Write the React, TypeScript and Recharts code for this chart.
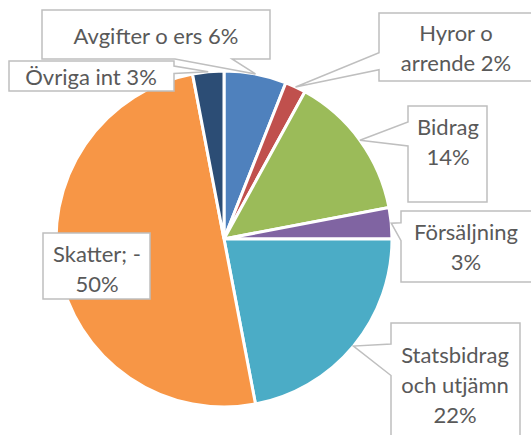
import { PieChart, Pie, Cell } from "recharts";

const names = [
  "Avgifter o ers",
  "Hyror o arrende",
  "Bidrag",
  "Försäljning",
  "Statsbidrag och utjämn",
  "Skatter; -",
  "Övriga int",
];
const values = [6, 2, 14, 3, 22, 50, 3];
// how many words go on each line of a label
const wordsPerLine = [[4], [2, 2], [1, 1], [1, 1], [1, 2, 1], [2, 1], [3]];
const colors = ["#4F81BD", "#C0504D", "#9BBB59", "#8064A2", "#4BACC6", "#F79646", "#2C4D75"];

// callout boxes, placed by hand like in the original sheet
const boxes = [
  { x: 42, y: 10, w: 228, h: 49, tx: 156, ty: 44 },
  { x: 379, y: 13, w: 154, h: 68, tx: 456, ty: 41 },
  { x: 408, y: 106, w: 79, h: 96, tx: 448, ty: 135 },
  { x: 401, y: 211, w: 132, h: 71, tx: 466, ty: 240 },
  { x: 391, y: 323, w: 129, h: 126, tx: 455, ty: 363 },
  { x: 43, y: 233, w: 107, h: 66, tx: 97, ty: 262 },
  { x: 9, y: 61, w: 165, h: 30, tx: 91, ty: 85 },
];

const data = names.map((name, i) => ({ name, value: values[i] }));

const RAD = Math.PI / 180;

// rectangle callout with a wedge pointing at (px, py)
function calloutPath(b: any, px: number, py: number) {
  const l = b.x, t = b.y, r = b.x + b.w, bt = b.y + b.h;
  if (px >= l && px <= r && py >= t && py <= bt) {
    return `M${l},${t}L${r},${t}L${r},${bt}L${l},${bt}Z`;
  }
  const dx = px - (l + b.w / 2);
  const dy = py - (t + b.h / 2);
  const dz = Math.abs(dy) - Math.abs((dx * b.h) / b.w);
  if (dz > 0) {
    const g = dx > 0 ? 7 : 2;
    const x1 = l + (b.w * g) / 12;
    const x2 = l + (b.w * (g + 3)) / 12;
    if (dy < 0)
      return `M${l},${t}L${x1},${t}L${px},${py}L${x2},${t}L${r},${t}L${r},${bt}L${l},${bt}Z`;
    return `M${l},${t}L${r},${t}L${r},${bt}L${x2},${bt}L${px},${py}L${x1},${bt}L${l},${bt}Z`;
  }
  const g = dy > 0 ? 7 : 2;
  const y1 = t + (b.h * g) / 12;
  const y2 = t + (b.h * (g + 3)) / 12;
  if (dx < 0)
    return `M${l},${t}L${r},${t}L${r},${bt}L${l},${bt}L${l},${y2}L${px},${py}L${l},${y1}Z`;
  return `M${l},${t}L${r},${t}L${r},${y1}L${px},${py}L${r},${y2}L${r},${bt}L${l},${bt}Z`;
}

const renderLabel = (props: any) => {
  const { cx, cy, midAngle, outerRadius, percent, index } = props;
  const b = boxes[index];
  const px = cx + outerRadius * Math.cos(-midAngle * RAD);
  const py = cy + outerRadius * Math.sin(-midAngle * RAD);
  const words = `${names[index]} ${Math.round(percent * 100)}%`.split(" ");
  const lines: string[] = [];
  let k = 0;
  wordsPerLine[index].forEach((n) => {
    lines.push(words.slice(k, k + n).join(" "));
    k += n;
  });
  return (
    <g key={`callout-${index}`}>
      <path d={calloutPath(b, px, py)} fill="#fff" stroke="#BFBFBF" strokeWidth={1.5} />
      {lines.map((line, j) => (
        <text
          key={j}
          x={b.tx}
          y={b.ty + j * 30}
          textAnchor="middle"
          fill="#595959"
          fontFamily="Lato"
          fontSize={22}
        >
          {line}
        </text>
      ))}
    </g>
  );
};

const App = () => {
  return (
    <div style={{ position: "absolute", left: 0, top: 0 }}>
      <PieChart width={531} height={435} margin={{ top: 0, right: 0, bottom: 0, left: 0 }}>
        <Pie
          data={data}
          dataKey="value"
          nameKey="name"
          cx={224}
          cy={239}
          outerRadius={168}
          startAngle={90}
          endAngle={-270}
          stroke="#fff"
          strokeWidth={3}
          label={renderLabel}
          labelLine={false}
          isAnimationActive={false}
        >
          {data.map((d, i) => (
            <Cell key={d.name} fill={colors[i]} />
          ))}
        </Pie>
      </PieChart>
    </div>
  );
};

export default App;
